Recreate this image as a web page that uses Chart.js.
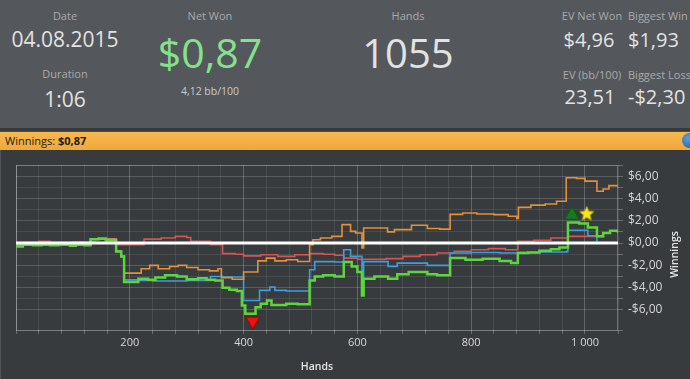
<!DOCTYPE html>
<html>
<head>
<meta charset="utf-8">
<script src="https://cdn.jsdelivr.net/npm/chart.js@4"></script>
<style>
  html, body { margin: 0; padding: 0; }
  body { width: 690px; height: 379px; overflow: hidden; position: relative; background: #383b3e; font-family: 'Open Sans', 'Noto Sans', sans-serif; }
  #header { position: absolute; left: 0; top: 0; width: 690px; height: 128px; background: #54575b; }
  .t { position: absolute; white-space: nowrap; line-height: 1; }
  .lbl { font-size: 11px; color: #a9abad; }
  .val { color: #e2e2e2; }
  #bar { position: absolute; left: 0; top: 131px; width: 690px; height: 18px; background: linear-gradient(#f6b94e, #eea83d); border-top: 1px solid #4a4c4f; }
  #bar span { position: absolute; left: 5px; top: 3px; font-size: 11px; color: #1d1a14; line-height: 12px; }
  #info { position: absolute; left: 682px; top: 133px; width: 15px; height: 15px; border-radius: 50%; background: radial-gradient(circle at 40% 35%, #5aa0e0, #1b5a9c); }
  #panel { position: absolute; left: 0; top: 150px; width: 690px; height: 229px; border-left: 1px solid #505356; box-sizing: border-box; }
  #chart { position: absolute; left: 0; top: 150px; }
</style>
</head>
<body>
<div id="header">
  <div class="t lbl" style="left:15px;width:100px;text-align:center;top:10px;">Date</div>
  <div class="t val" style="left:5px;width:120px;text-align:center;top:29px;font-size:21px;">04.08.2015</div>
  <div class="t lbl" style="left:15px;width:100px;text-align:center;top:68px;">Duration</div>
  <div class="t val" style="left:15px;width:100px;text-align:center;top:89px;font-size:21px;">1:06</div>

  <div class="t lbl" style="left:160px;width:100px;text-align:center;top:10px;">Net Won</div>
  <div class="t" style="left:110px;width:200px;text-align:center;top:32px;font-size:41px;color:#84e18c;">$0,87</div>
  <div class="t" style="left:160px;width:100px;text-align:center;top:86px;font-size:10.5px;color:#c9cbcd;">4,12 bb/100</div>

  <div class="t lbl" style="left:358px;width:100px;text-align:center;top:10px;">Hands</div>
  <div class="t val" style="left:308px;width:200px;text-align:center;top:33px;font-size:40px;">1055</div>

  <div class="t lbl" style="left:542px;width:100px;text-align:center;top:10px;">EV Net Won</div>
  <div class="t val" style="left:539px;width:100px;text-align:center;top:30px;font-size:20px;">$4,96</div>
  <div class="t lbl" style="left:542px;width:100px;text-align:center;top:69px;">EV (bb/100)</div>
  <div class="t val" style="left:540px;width:100px;text-align:center;top:87px;font-size:20px;">23,51</div>

  <div class="t lbl" style="left:628px;top:10px;">Biggest Win</div>
  <div class="t val" style="left:628px;top:30px;font-size:20px;">$1,93</div>
  <div class="t lbl" style="left:628px;top:69px;">Biggest Loss</div>
  <div class="t val" style="left:628px;top:87px;font-size:20px;">-$2,30</div>
</div>
<div id="bar"><span>Winnings: <b>$0,87</b></span></div>
<div id="info"></div>
<div id="panel"></div>
<canvas id="chart" width="690" height="229"></canvas>

<script>
// Range of the session
const handsMax = 1058;
const yMin = -7.8;
const yMax = 7;

// Net won (green)
const netWonHands = [0, 12, 30, 45, 60, 75, 95, 105, 120, 131, 145, 158, 176, 185, 190, 215, 232, 245, 262, 283, 300, 320, 335, 350, 363, 375, 388, 397, 403, 421, 430, 441, 449, 475, 495, 516, 525, 540, 560, 576, 590, 600, 608, 611, 630, 654, 670, 690, 723, 740, 763, 790, 820, 850, 870, 882, 900, 920, 940, 955, 970, 990, 1005, 1021, 1032, 1044, 1058];
const netWon = [-0.3, -0.15, -0.2, -0.1, -0.2, -0.15, -0.25, -0.15, -0.2, 0.35, 0.4, 0.25, -0.75, -1.2, -3.5, -3.2, -3.3, -3.1, -2.9, -3.0, -3.25, -3.15, -3.3, -3.35, -4.0, -4.2, -4.3, -5.6, -6.35, -5.75, -5.45, -5.15, -5.55, -5.45, -5.5, -3.35, -3.0, -2.9, -3.0, -1.7, -2.1, -2.6, -4.7, -3.2, -3.0, -3.2, -2.8, -2.6, -2.8, -2.9, -1.35, -1.5, -1.4, -1.6, -1.8, -0.9, -0.85, -0.7, -0.55, -0.4, 1.85, 1.75, 1.4, 0.6, 0.9, 1.1, 0.9];

// EV net won (orange)
const evHands = [0, 131, 176, 185, 190, 220, 235, 250, 270, 285, 300, 320, 340, 355, 361, 380, 400, 425, 440, 455, 475, 495, 516, 522, 535, 555, 573, 588, 597, 608, 611, 630, 653, 665, 695, 723, 745, 763, 785, 810, 840, 865, 880, 883, 905, 930, 950, 967, 985, 1000, 1021, 1032, 1042, 1058];
const evWon = [-0.2, 0.35, -0.75, -1.2, -2.7, -2.3, -2.0, -2.3, -2.1, -2.0, -2.2, -2.4, -2.5, -2.3, -3.1, -3.25, -2.6, -1.6, -1.35, -1.6, -1.5, -1.65, -0.15, 0.3, 0.45, 0.6, 1.65, 1.05, 0.9, -0.45, 1.35, 1.35, 1.0, 1.2, 1.6, 1.3, 1.25, 2.57, 2.7, 2.6, 2.55, 2.4, 2.2, 3.2, 3.4, 3.5, 3.75, 5.85, 5.8, 5.55, 4.65, 4.85, 5.15, 5.0];

// Non-showdown winnings (red)
const redHands = [0, 40, 60, 100, 140, 176, 225, 255, 280, 300, 307, 342, 363, 385, 400, 430, 460, 490, 516, 540, 560, 576, 600, 650, 680, 710, 740, 770, 800, 830, 860, 882, 910, 940, 970, 1021, 1032, 1044, 1058];
const redWon = [0.05, 0.15, 0.05, 0.1, 0.0, -0.15, 0.35, 0.45, 0.6, 0.5, 0.15, -0.15, -0.95, -1.0, -1.15, -1.05, -1.2, -1.05, -0.95, -1.0, -1.1, -1.35, -1.45, -1.4, -1.2, -1.05, -0.9, -0.75, -0.6, -0.5, -0.6, 0.15, 0.25, 0.45, 0.6, 0.6, 0.9, 1.1, 0.9];

// Showdown winnings (blue)
const blueHands = [0, 131, 176, 185, 190, 215, 240, 300, 342, 363, 400, 428, 446, 455, 475, 516, 525, 560, 576, 588, 608, 611, 654, 670, 723, 763, 800, 850, 882, 920, 968, 970, 1005, 1021, 1058];
const blueWon = [-0.15, 0.35, -0.75, -1.2, -3.3, -3.35, -3.4, -3.35, -3.0, -3.05, -5.15, -4.25, -3.95, -4.25, -4.3, -2.4, -1.67, -1.7, -0.6, -1.2, -3.3, -1.67, -2.1, -1.8, -2.0, -0.9, -0.85, -0.9, -0.85, -0.8, -0.75, 1.15, 0.66, 0.0, 0.0];

// Markers: biggest loss, biggest win, session high
const lossMarker = [416, -7.0];
const winMarker = [977, 2.5];
const starMarker = [1003, 2.65];

function toPoints(xs, ys) {
    return xs.map((x, i) => ({ x: x, y: ys[i] }));
}

// filled star for the point style
function makeStar(size) {
    const c = document.createElement('canvas');
    c.width = size; c.height = size;
    const g = c.getContext('2d');
    const cx = size / 2, cy = size / 2 + 0.5, R = size / 2 - 0.5, r = R * 0.45;
    g.beginPath();
    for (let i = 0; i < 10; i++) {
        const a = -Math.PI / 2 + i * Math.PI / 5;
        const rad = i % 2 === 0 ? R : r;
        g.lineTo(cx + Math.cos(a) * rad, cy + Math.sin(a) * rad);
    }
    g.closePath();
    g.fillStyle = '#f7ea12';
    g.fill();
    g.strokeStyle = '#c9b400';
    g.lineWidth = 0.8;
    g.stroke();
    return c;
}

const gridMinor = 'rgba(255,255,255,0.09)';
const gridMajor = 'rgba(255,255,255,0.22)';

const framePlugin = {
    id: 'frame',
    beforeDatasetsDraw(chart) {
        const { ctx, chartArea: a } = chart;
        ctx.save();
        ctx.strokeStyle = 'rgba(255,255,255,0.28)';
        ctx.lineWidth = 1;
        ctx.strokeRect(a.left + 0.5, a.top + 0.5, a.right - a.left - 1, a.bottom - a.top);
        ctx.restore();
    },
    afterDatasetsDraw(chart) {
        // zero line
        const { ctx, chartArea: a, scales } = chart;
        const y0 = scales.y.getPixelForValue(0);
        ctx.save();
        ctx.strokeStyle = '#ffffff';
        ctx.lineWidth = 3;
        ctx.beginPath();
        ctx.moveTo(a.left, y0);
        ctx.lineTo(a.right, y0);
        ctx.stroke();
        ctx.restore();
    },
    afterDraw(chart) {
        // vertical y axis title reading bottom to top
        const { ctx, chartArea: a } = chart;
        ctx.save();
        ctx.translate(675, (a.top + a.bottom) / 2 + 7);
        ctx.rotate(-Math.PI / 2);
        ctx.font = '600 10.5px "Open Sans"';
        ctx.fillStyle = '#e4e4e4';
        ctx.textAlign = 'center';
        ctx.textBaseline = 'middle';
        ctx.fillText('Winnings', 0, 0);
        ctx.restore();
    }
};

const ctx = document.getElementById('chart').getContext('2d');
const chart = new Chart(ctx, {
    type: 'line',
    data: {
        datasets: [
            { label: 'Loss', type: 'scatter', data: [{ x: lossMarker[0], y: lossMarker[1] }], pointStyle: 'triangle', rotation: 180, pointRadius: 8, backgroundColor: '#ee1111', borderColor: '#9a0000', borderWidth: 1, order: 0 },
            { label: 'Win', type: 'scatter', data: [{ x: winMarker[0], y: winMarker[1] }], pointStyle: 'triangle', pointRadius: 8.5, backgroundColor: '#137a1d', borderColor: '#0c5a12', borderWidth: 1, order: 0 },
            { label: 'High', type: 'scatter', data: [{ x: starMarker[0], y: starMarker[1] }], pointStyle: makeStar(16), pointRadius: 8, order: 0 },
            { label: 'Net Won', data: toPoints(netWonHands, netWon), borderColor: '#5cd63c', borderWidth: 2.5, order: 1 },
            { label: 'EV', data: toPoints(evHands, evWon), borderColor: '#e0913c', borderWidth: 1.6, order: 2 },
            { label: 'Non-showdown', data: toPoints(redHands, redWon), borderColor: '#d45453', borderWidth: 1.6, order: 4 },
            { label: 'Showdown', data: toPoints(blueHands, blueWon), borderColor: '#3e9ddf', borderWidth: 1.6, order: 3 }
        ]
    },
    options: {
        responsive: false,
        devicePixelRatio: 1,
        animation: false,
        datasets: {
            line: { stepped: true, pointRadius: 0, fill: false, tension: 0 }
        },
        layout: { padding: { left: 16, top: 15, right: 0, bottom: 0 } },
        plugins: {
            legend: { display: false },
            tooltip: { enabled: false }
        },
        scales: {
            x: {
                type: 'linear',
                min: 0,
                max: handsMax,
                afterFit: (scale) => { scale.height = 49; },
                border: { display: false },
                grid: {
                    color: (c) => (c.tick && c.tick.value % 200 === 0) ? gridMajor : gridMinor,
                    tickLength: 4,
                    tickColor: 'rgba(255,255,255,0.25)'
                },
                ticks: {
                    stepSize: 40,
                    autoSkip: false,
                    maxRotation: 0,
                    padding: 2,
                    color: '#d6d6d6',
                    font: { family: 'Open Sans', size: 11 },
                    callback: (v) => (v > 0 && v % 200 === 0) ? String(v).replace(/\B(?=(\d{3})+(?!\d))/g, ' ') : ''
                },
                title: {
                    display: true,
                    text: 'Hands',
                    color: '#e4e4e4',
                    font: { family: 'Open Sans', size: 10.5, weight: '600' },
                    padding: { top: 0, bottom: 6 }
                }
            },
            y: {
                position: 'right',
                min: yMin,
                max: yMax,
                afterFit: (scale) => { scale.width = 72; },
                border: { display: false },
                grid: {
                    color: (c) => (c.tick && Math.round(c.tick.value) % 2 === 0 && Number.isInteger(c.tick.value)) ? 'rgba(255,255,255,0.17)' : gridMinor,
                    tickLength: 5,
                    tickColor: 'rgba(255,255,255,0.25)'
                },
                ticks: {
                    stepSize: 1,
                    autoSkip: false,
                    padding: 5,
                    color: '#d6d6d6',
                    font: { family: 'Open Sans', size: 12 },
                    callback: (v) => {
                        if (!Number.isInteger(v) || v % 2 !== 0) return '';
                        const s = '$' + Math.abs(v).toFixed(2).replace('.', ',');
                        return v < 0 ? '-' + s : s;
                    }
                }
            }
        }
    },
    plugins: [framePlugin]
});
</script>
</body>
</html>
